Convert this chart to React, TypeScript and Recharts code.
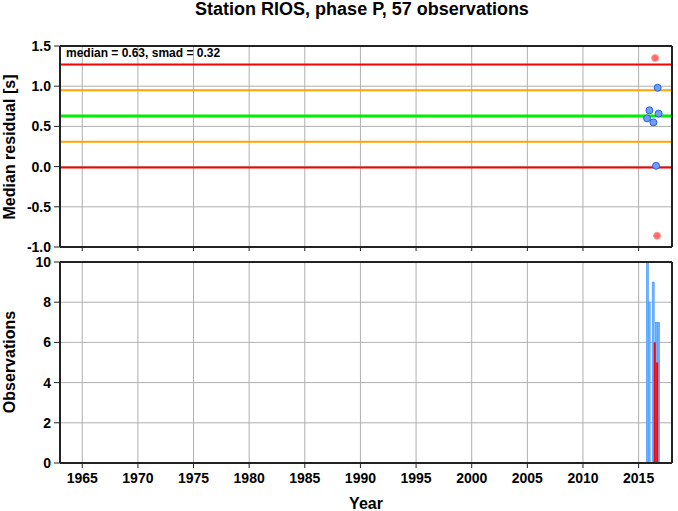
import React from 'react'
import {
  ComposedChart,
  Scatter,
  Bar,
  XAxis,
  YAxis,
  CartesianGrid,
  ReferenceLine,
} from 'recharts'

// residuals per observation (year, residual in s)
const goodYears = [2015.76, 2015.97, 2016.33, 2016.57, 2016.71, 2016.8]
const goodResiduals = [0.6, 0.7, 0.55, 0.01, 0.98, 0.66]
const outlierYears = [2016.48, 2016.66]
const outlierResiduals = [1.35, -0.86]

// observation counts per bin
const countYears = [2015.79, 2015.95, 2016.31, 2016.59, 2016.79]
const counts = [10, 8, 9, 7, 7]
const outlierCountYears = [2016.45, 2016.67]
const outlierCounts = [6, 5]

const median = 0.63
const smad = 0.32

const yearTicks = [1965, 1970, 1975, 1980, 1985, 1990, 1995, 2000, 2005, 2010, 2015]
const residualTicks = [-1, -0.5, 0, 0.5, 1, 1.5]
const countTicks = [0, 2, 4, 6, 8, 10]

const FONT = '"Liberation Sans", Arial, Helvetica, sans-serif'
const W = 678

const goodPts = goodYears.map((year, i) => ({ year, res: goodResiduals[i] }))
const badPts = outlierYears.map((year, i) => ({ year, res: outlierResiduals[i] }))
const bars = [
  ...countYears.map((year, i) => ({ year, n: counts[i], out: false })),
  ...outlierCountYears.map((year, i) => ({ year, n: outlierCounts[i], out: true })),
]

const tickStyle = { fontFamily: FONT, fontSize: 14, fontWeight: 700, fill: '#000' }
const axisLine = { stroke: '#222', strokeWidth: 2 }
const blank = () => ''

const BlueDot = (p: any) => (
  <circle cx={p.cx} cy={p.cy} r={3.5} fill="#6f9ff0" stroke="#2a5ef0" strokeWidth={1} />
)
const RedDot = (p: any) => (
  <circle cx={p.cx} cy={p.cy} r={3.5} fill="#ff6a6a" stroke="#ff9a9a" strokeWidth={1} />
)

const CountBar = (p: any) => {
  const cx = p.x + p.width / 2
  if (p.payload.out) {
    return <rect x={cx - 1} y={p.y} width={2} height={p.height} fill="#ff0000" />
  }
  return (
    <rect x={cx - 1} y={p.y} width={2} height={p.height} fill="#70b4ff" stroke="#3d95ff" strokeWidth={0.6} />
  )
}

export default function App() {
  return (
    <div style={{ position: 'absolute', left: 0, top: 0, width: W, height: 511, background: '#fff' }}>
      <div style={{ position: 'absolute', left: 0, top: 0 }}>
        <ComposedChart width={W} height={255} margin={{ top: 42, right: 0, bottom: 0, left: 0 }}>
          <CartesianGrid stroke="#b0b0b0" strokeWidth={1} />
          <XAxis
            dataKey="year"
            type="number"
            domain={[1963, 2018]}
            ticks={yearTicks}
            allowDataOverflow
            height={8}
            tickSize={4}
            tickFormatter={blank}
            axisLine={axisLine}
            tickLine={{ stroke: '#222' }}
          />
          <XAxis
            xAxisId="top"
            orientation="top"
            type="number"
            domain={[1963, 2018]}
            ticks={yearTicks}
            height={4}
            tickSize={4}
            tickFormatter={blank}
            axisLine={axisLine}
            tickLine={{ stroke: '#222' }}
          />
          <YAxis
            type="number"
            domain={[-1, 1.5]}
            ticks={residualTicks}
            width={60}
            tickSize={6}
            tickMargin={3}
            tickFormatter={(v: number) => v.toFixed(1)}
            tick={tickStyle}
            axisLine={axisLine}
            tickLine={{ stroke: '#222' }}
          />
          <YAxis
            yAxisId="r"
            orientation="right"
            type="number"
            domain={[-1, 1.5]}
            ticks={residualTicks}
            width={6}
            tickSize={4}
            tickFormatter={blank}
            axisLine={axisLine}
            tickLine={{ stroke: '#222' }}
          />
          <ReferenceLine y={median + 2 * smad} stroke="#ff0000" strokeWidth={2} />
          <ReferenceLine y={median - 2 * smad} stroke="#ff0000" strokeWidth={2} />
          <ReferenceLine y={median + smad} stroke="#ffa500" strokeWidth={2} />
          <ReferenceLine y={median - smad} stroke="#ffa500" strokeWidth={2} />
          <ReferenceLine y={median} stroke="#00ee00" strokeWidth={3} />
          <Scatter data={goodPts} dataKey="res" shape={BlueDot} isAnimationActive={false} />
          <Scatter data={badPts} dataKey="res" shape={RedDot} isAnimationActive={false} />
        </ComposedChart>
      </div>

      <div style={{ position: 'absolute', left: 0, top: 250 }}>
        <ComposedChart width={W} height={261} data={bars} margin={{ top: 8, right: 0, bottom: 0, left: 0 }}>
          <CartesianGrid stroke="#b0b0b0" strokeWidth={1} />
          <XAxis
            dataKey="year"
            type="number"
            domain={[1963, 2018]}
            ticks={yearTicks}
            allowDataOverflow
            height={48}
            tickSize={5}
            tickMargin={5}
            tick={tickStyle}
            axisLine={axisLine}
            tickLine={{ stroke: '#222' }}
          />
          <XAxis
            xAxisId="top"
            orientation="top"
            type="number"
            domain={[1963, 2018]}
            ticks={yearTicks}
            height={4}
            tickSize={4}
            tickFormatter={blank}
            axisLine={axisLine}
            tickLine={{ stroke: '#222' }}
          />
          <YAxis
            type="number"
            domain={[0, 10]}
            ticks={countTicks}
            width={60}
            tickSize={6}
            tickMargin={3}
            tick={tickStyle}
            axisLine={axisLine}
            tickLine={{ stroke: '#222' }}
          />
          <YAxis
            yAxisId="r"
            orientation="right"
            type="number"
            domain={[0, 10]}
            ticks={countTicks}
            width={6}
            tickSize={4}
            tickFormatter={blank}
            axisLine={axisLine}
            tickLine={{ stroke: '#222' }}
          />
          <Bar dataKey="n" shape={CountBar} isAnimationActive={false} />
        </ComposedChart>
      </div>

      <svg width={W} height={511} style={{ position: 'absolute', left: 0, top: 0, pointerEvents: 'none' }}>
        <g fontFamily={FONT} fontWeight={700} fill="#000">
          <text x={362} y={15} fontSize={18} textAnchor="middle">
            Station RIOS, phase P, 57 observations
          </text>
          <text x={66} y={57} fontSize={12}>
            median = 0.63, smad = 0.32
          </text>
          <text x={366} y={509} fontSize={16} textAnchor="middle">
            Year
          </text>
          <text transform="translate(15,147) rotate(-90)" fontSize={16} textAnchor="middle">
            Median residual [s]
          </text>
          <text transform="translate(15,362) rotate(-90)" fontSize={16} textAnchor="middle">
            Observations
          </text>
        </g>
      </svg>
    </div>
  )
}
